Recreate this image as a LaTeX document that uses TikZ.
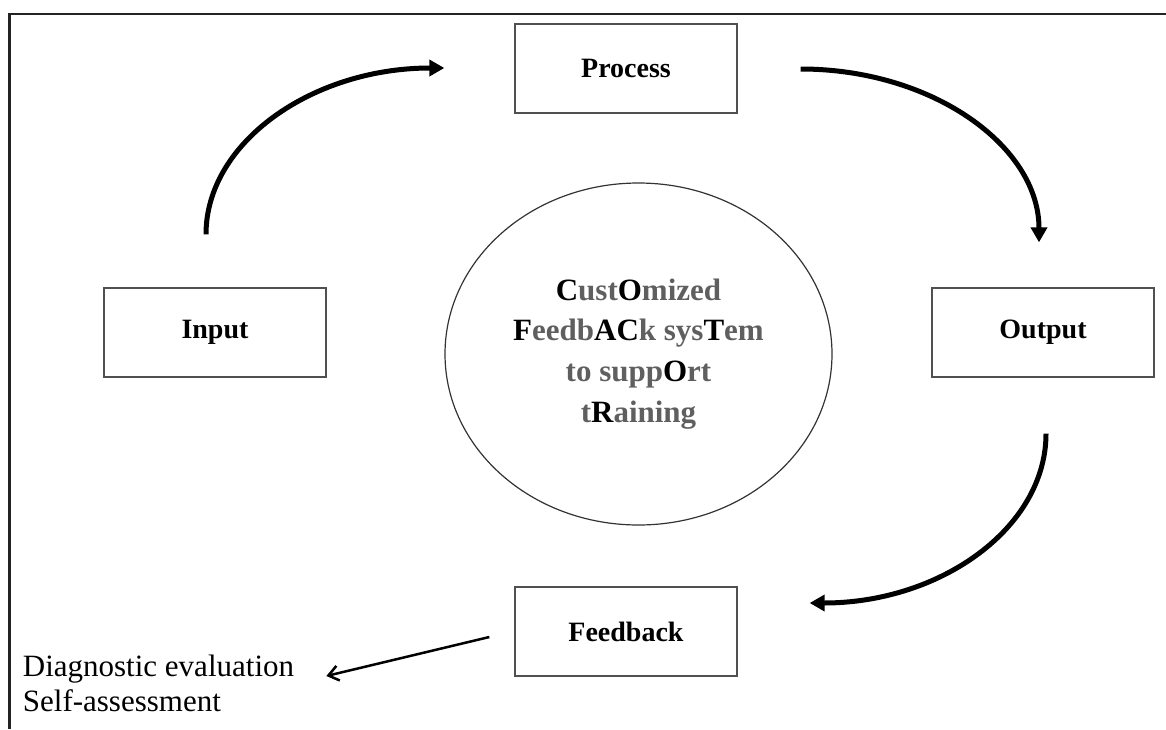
\documentclass[tikz,border=0pt]{standalone}
\usepackage{fontspec}
\setmainfont{Liberation Serif}
\usetikzlibrary{arrows.meta,calc,shapes.geometric}
\definecolor{softgray}{RGB}{95,95,95}
\definecolor{framecol}{RGB}{35,35,35}
\definecolor{boxcol}{RGB}{80,80,80}
\newcommand{\keyl}[1]{\textcolor{black}{#1}}
\tikzset{
  stagebox/.style={draw=boxcol,line width=1.3pt,minimum width=222pt,minimum height=89pt,inner sep=0pt,font=\fontsize{28}{32}\selectfont\bfseries},
  flowarrow/.style={line width=5pt,-{Triangle[length=15pt,width=16pt]}},
  thinarrow/.style={line width=2.5pt,-{Straight Barb[length=10pt,width=15pt]}},
}
\begin{document}
\begin{tikzpicture}[x=1pt,y=-1pt]
\useasboundingbox (0,0) rectangle (1166,729);
\draw[framecol,line width=2.2pt] (9.5,729) -- (9.5,14) -- (1166,14);

\node[stagebox] (proc) at (626,68.5) {Process};
\node[stagebox] (inp) at (215,332.5) {Input};
\node[stagebox] (outp) at (1043,332.5) {Output};
\node[stagebox] (fb) at (626,631.5) {Feedback};

\node[ellipse,draw=black!80,line width=1.2pt,minimum width=387pt,minimum height=342pt,inner sep=0pt,align=center,font=\fontsize{31}{40.7}\selectfont\bfseries,text=softgray] (core) at (638.5,354)
  {\keyl{C}ust\keyl{O}mized\\ \keyl{F}eedb\keyl{AC}k sys\keyl{T}em\\ to supp\keyl{O}rt\\ t\keyl{R}aining};

\node[anchor=base west,align=left,font=\fontsize{31}{35}\selectfont,inner sep=0pt] (evals) at (22.7,711) {Diagnostic evaluation\\Self-assessment};

\coordinate (s1) at ($(inp.north)+(-9,-53)$);
\coordinate (e1) at ($(proc.west)+(-70,-0.5)$);
\draw[flowarrow] (s1) .. controls ($(s1)+(0,-92)$) and ($(e1)+(-132,0)$) .. (e1);

\coordinate (s2) at ($(proc.east)+(63,0.5)$);
\coordinate (e2) at ($(outp.north)+(-4,-45)$);
\draw[flowarrow] (s2) .. controls ($(s2)+(132,0)$) and ($(e2)+(0,-96)$) .. (e2);

\coordinate (s3) at ($(outp.south)+(3,56)$);
\coordinate (e3) at ($(fb.east)+(72,-28.5)$);
\draw[flowarrow] (s3) .. controls ($(s3)+(0,94)$) and ($(e3)+(131,0)$) .. (e3);

\coordinate (s4) at ($(fb.west)+(-25,5.5)$);
\coordinate (e4) at ($(fb.west)+(-188,44.5)$);
\draw[thinarrow] (s4) -- (e4);
\end{tikzpicture}
\end{document}
